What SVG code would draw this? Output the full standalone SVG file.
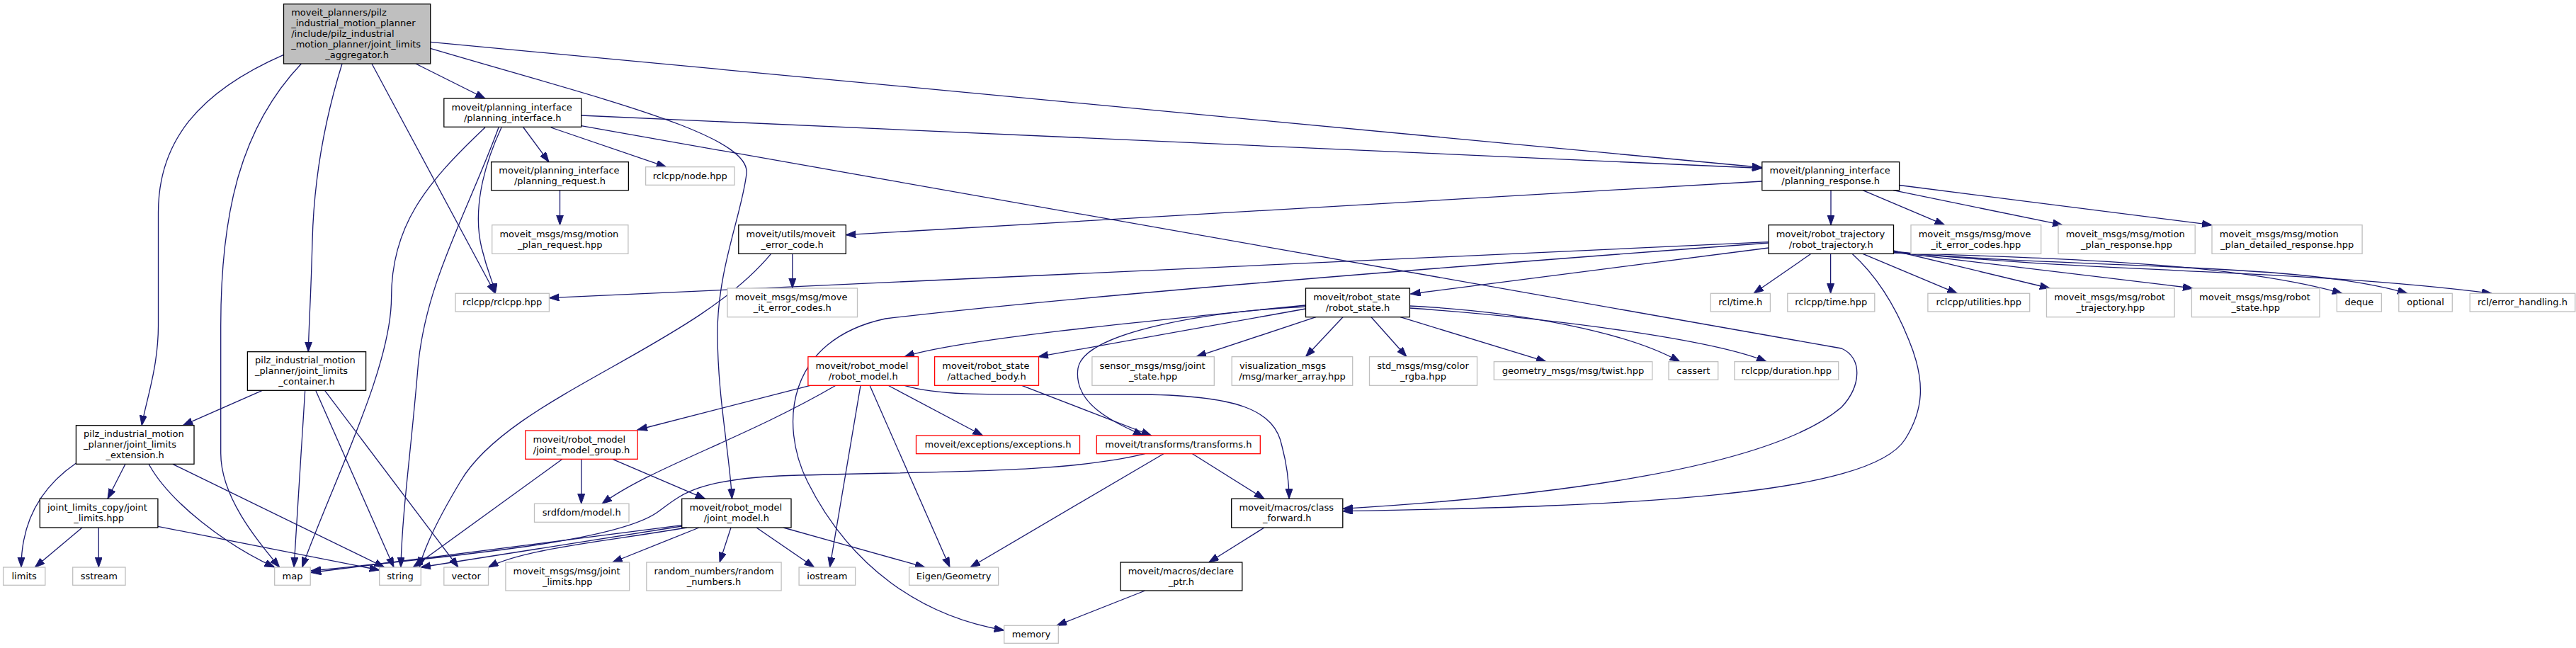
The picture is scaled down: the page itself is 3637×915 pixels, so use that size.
<svg xmlns="http://www.w3.org/2000/svg" width="3637" height="915" viewBox="0 0 3637 915">
<style>
text{font-family:"DejaVu Sans","Liberation Sans",sans-serif;font-size:13px;fill:#000}
.c{text-anchor:middle}
.l{text-anchor:start}
.n rect{fill:#fff;stroke:#000;stroke-width:1.3}
.g rect{stroke:#bfbfbf}
.r rect{stroke:#ff0000}
.root rect{fill:#bfbfbf}
#edges path{fill:none;stroke:#191970;stroke-width:1.3;marker-end:url(#a)}
</style>
<defs>
<marker id="a" markerUnits="userSpaceOnUse" markerWidth="16" markerHeight="12" refX="14" refY="5" orient="auto">
<path d="M0,0 L14,5 L0,10 z" fill="#191970" stroke="#191970" stroke-width="1"/>
</marker>
</defs>
<rect width="3637" height="915" fill="#fff"/>
<g id="edges">
<path d="M587,90 L685,139"/>
<path d="M607.7,59.3 L2487.8,236.5"/>
<path d="M607.7,68.3 C850,140 1060,190 1054,245 C1048,300 1013,380 1013,470 C1013,560 1030,640 1033.5,704.3"/>
<path d="M525,90 L699,414.3"/>
<path d="M425.4,90 C340,180 311.7,300 311.7,460 L311.7,640 C311.7,700 360,760 394.7,801"/>
<path d="M483,90 C455,180 443,260 441,340 C439,420 436,460 435.3,496.7"/>
<path d="M400.5,77.3 C280,130 223.5,200 223.5,300 L223.5,460 C223.5,520 205,570 200.2,600.7"/>
<path d="M820.7,163 L2487.8,237.5"/>
<path d="M684.9,180 C600,260 552.6,320 552.6,420 C552.6,520 470,680 426.6,801"/>
<path d="M704,180 C660,300 600,400 590,520 C580,640 568,720 565.9,801"/>
<path d="M708,180 C680,240 668,300 680,350 C690,390 697,400 699.4,414.3"/>
<path d="M739,180 L775,228.7"/>
<path d="M777.7,180 L940.6,235.7"/>
<path d="M820.7,177.7 L2600,492 C2630,505 2628,545 2600,575 C2500,660 2200,700 1895.8,718.3"/>
<path d="M790.5,268.7 L790.5,317.7"/>
<path d="M2585,268.7 L2585,317.7"/>
<path d="M2630,268.7 L2745.7,317.7"/>
<path d="M2673,268.7 L2912,317.7"/>
<path d="M2681.6,261.5 L3123,317.7"/>
<path d="M2487.8,256 L1194.3,331.7"/>
<path d="M1118.8,358.3 L1118.8,407"/>
<path d="M1088.6,358.3 C980,490 720,560 650,680 C620,730 600,770 592,801"/>
<path d="M2497,341.7 L775.4,420.7"/>
<path d="M2497,343 C2000,380 1500,420 1250,450 C1110,480 1100,600 1140,680 C1200,800 1300,870 1417.7,890"/>
<path d="M2497,350 L1991.5,415"/>
<path d="M2557,358.3 L2476,414.3"/>
<path d="M2584.6,358.3 L2584.6,414.3"/>
<path d="M2615,358.3 C2650,390 2675,430 2695,480 C2720,540 2715,580 2690,620 C2640,700 2300,715 1895.8,721.7"/>
<path d="M2630,358.3 L2763.5,414.3"/>
<path d="M2673.5,354 L2894,407"/>
<path d="M2673.5,356 L3096,407"/>
<path d="M2673.5,357 C2900,365 3150,370 3307,414.3"/>
<path d="M2673.5,356 C2950,380 3250,370 3399,414.3"/>
<path d="M2673.5,355 C2950,385 3250,380 3518,414.3"/>
<path d="M1843.5,431 C1600,455 1350,480 1277,503.7"/>
<path d="M1843.5,433 C1700,440 1530,470 1522,520 C1515,570 1570,595 1614,615"/>
<path d="M1843.5,436 L1466,503.7"/>
<path d="M1858,447.7 L1689,503.7"/>
<path d="M1896,447.7 L1843.5,503.7"/>
<path d="M1936,447.7 L1985.9,503.7"/>
<path d="M1977,447.7 L2183,510.7"/>
<path d="M1990.4,432 C2150,440 2300,470 2371.7,510.7"/>
<path d="M1990.4,435 C2200,450 2420,480 2494,510.7"/>
<path d="M1143.8,544.3 L900,607"/>
<path d="M1180,544.3 C1050,620 920,660 850,711.3"/>
<path d="M1215,544.3 L1171.6,801"/>
<path d="M1228,544.3 L1341,801"/>
<path d="M1254,544.3 L1387.5,615"/>
<path d="M1277,544.3 C1330,560 1400,557 1600,557 C1750,557 1800,580 1810,630 C1818,660 1820,690 1820,704.3"/>
<path d="M1442.7,544.3 L1625.5,615"/>
<path d="M864.8,648.3 L995.7,704.3"/>
<path d="M820.7,648.3 L820.7,711.3"/>
<path d="M794,648.3 L583.3,801"/>
<path d="M1683.5,640.7 L1785,704.3"/>
<path d="M1642.9,640.7 L1370,801"/>
<path d="M1616.6,640.7 C1500,670 1300,665 1100,672 C980,678 960,700 930,722 C880,760 700,780 439,806"/>
<path d="M962.7,741.7 L439.3,808.5"/>
<path d="M962.7,743 L594,801"/>
<path d="M970,745 C850,765 740,775 689.5,801"/>
<path d="M987,745 L864.8,794"/>
<path d="M1032,745 L1016,794"/>
<path d="M1068,745 L1149.6,801"/>
<path d="M1106,745 L1306,801"/>
<path d="M1785,745 L1706.8,794"/>
<path d="M1616.8,834 L1492,883.3"/>
<path d="M370.3,551.3 L258.3,600.7"/>
<path d="M430.7,551.3 L415,801"/>
<path d="M445.7,551.3 L556,801"/>
<path d="M458.5,551.3 L647,801"/>
<path d="M107.4,654 C55,690 30,740 30,801"/>
<path d="M177,655.3 L152,704.3"/>
<path d="M210,655.3 C240,710 320,770 387.7,801"/>
<path d="M243.8,655.3 L542.7,801"/>
<path d="M116,745 L49.3,801"/>
<path d="M139.3,745 L139.3,801"/>
<path d="M222.9,743.3 L535.7,805"/>
</g>
<g id="n0" class="n root"><rect x="400.5" y="5.7" width="207.2" height="84.3"/><text class="l" x="411.2" y="21.9">moveit_planners/pilz</text><text class="l" x="411.2" y="36.9">_industrial_motion_planner</text><text class="l" x="411.2" y="51.9">/include/pilz_industrial</text><text class="l" x="411.2" y="66.9">_motion_planner/joint_limits</text><text class="c" x="504.1" y="81.9">_aggregator.h</text></g>
<g id="n1" class="n"><rect x="626.8" y="139" width="193.9" height="40.3"/><text class="l" x="637.5" y="155.7">moveit/planning_interface</text><text class="c" x="723.75" y="170.7">/planning_interface.h</text></g>
<g id="n2" class="n"><rect x="693.6" y="228.7" width="193.8" height="40"/><text class="l" x="704.3" y="245.2">moveit/planning_interface</text><text class="c" x="790.5" y="260.2">/planning_request.h</text></g>
<g id="n3" class="n g"><rect x="694.7" y="317.7" width="192.2" height="40.6"/><text class="l" x="705.4" y="334.5">moveit_msgs/msg/motion</text><text class="c" x="790.8" y="349.5">_plan_request.hpp</text></g>
<g id="n4" class="n g"><rect x="643" y="414.3" width="132.4" height="25.7"/><text class="c" x="709.2" y="431.2">rclcpp/rclcpp.hpp</text></g>
<g id="n5" class="n g"><rect x="911.6" y="235.7" width="125.4" height="25.6"/><text class="c" x="974.3" y="252.5">rclcpp/node.hpp</text></g>
<g id="n6" class="n"><rect x="2487.8" y="228.7" width="193.8" height="40"/><text class="l" x="2498.5" y="245.2">moveit/planning_interface</text><text class="c" x="2584.7" y="260.2">/planning_response.h</text></g>
<g id="n7" class="n"><rect x="1042.8" y="317.7" width="151.5" height="40.6"/><text class="l" x="1053.5" y="334.5">moveit/utils/moveit</text><text class="c" x="1118.55" y="349.5">_error_code.h</text></g>
<g id="n8" class="n g"><rect x="1027" y="407" width="183.5" height="40.7"/><text class="l" x="1037.7" y="423.85">moveit_msgs/msg/move</text><text class="c" x="1118.75" y="438.85">_it_error_codes.h</text></g>
<g id="n9" class="n"><rect x="2497" y="317.7" width="176.5" height="40.6"/><text class="l" x="2507.7" y="334.5">moveit/robot_trajectory</text><text class="c" x="2585.25" y="349.5">/robot_trajectory.h</text></g>
<g id="n10" class="n g"><rect x="2698" y="317.7" width="183.7" height="40.6"/><text class="l" x="2708.7" y="334.5">moveit_msgs/msg/move</text><text class="c" x="2789.85" y="349.5">_it_error_codes.hpp</text></g>
<g id="n11" class="n g"><rect x="2906" y="317.7" width="193.2" height="40.6"/><text class="l" x="2916.7" y="334.5">moveit_msgs/msg/motion</text><text class="c" x="3002.6" y="349.5">_plan_response.hpp</text></g>
<g id="n12" class="n g"><rect x="3123" y="317.7" width="212.1" height="40.6"/><text class="l" x="3133.7" y="334.5">moveit_msgs/msg/motion</text><text class="c" x="3229.05" y="349.5">_plan_detailed_response.hpp</text></g>
<g id="n13" class="n"><rect x="1843.5" y="407" width="146.9" height="40.7"/><text class="l" x="1854.2" y="423.85">moveit/robot_state</text><text class="c" x="1916.95" y="438.85">/robot_state.h</text></g>
<g id="n14" class="n g"><rect x="2415.2" y="414.3" width="84.2" height="25.7"/><text class="c" x="2457.3" y="431.2">rcl/time.h</text></g>
<g id="n15" class="n g"><rect x="2523.8" y="414.3" width="123" height="25.7"/><text class="c" x="2585.3" y="431.2">rclcpp/time.hpp</text></g>
<g id="n16" class="n g"><rect x="2721.9" y="414.3" width="143.8" height="25.7"/><text class="c" x="2793.8" y="431.2">rclcpp/utilities.hpp</text></g>
<g id="n17" class="n g"><rect x="2889.5" y="407" width="180.6" height="40.7"/><text class="l" x="2900.2" y="423.85">moveit_msgs/msg/robot</text><text class="c" x="2979.8" y="438.85">_trajectory.hpp</text></g>
<g id="n18" class="n g"><rect x="3094.4" y="407" width="180.7" height="40.7"/><text class="l" x="3105.1" y="423.85">moveit_msgs/msg/robot</text><text class="c" x="3184.75" y="438.85">_state.hpp</text></g>
<g id="n19" class="n g"><rect x="3299.4" y="414.3" width="63" height="25.7"/><text class="c" x="3330.9" y="431.2">deque</text></g>
<g id="n20" class="n g"><rect x="3386.8" y="414.3" width="75.5" height="25.7"/><text class="c" x="3424.55" y="431.2">optional</text></g>
<g id="n21" class="n g"><rect x="3487.2" y="414.3" width="148.6" height="25.7"/><text class="c" x="3561.5" y="431.2">rcl/error_handling.h</text></g>
<g id="n22" class="n"><rect x="349.4" y="496.7" width="167.2" height="54.6"/><text class="l" x="360.1" y="513">pilz_industrial_motion</text><text class="l" x="360.1" y="528">_planner/joint_limits</text><text class="c" x="433" y="543">_container.h</text></g>
<g id="n23" class="n"><rect x="107.4" y="600.7" width="166.6" height="54.6"/><text class="l" x="118.1" y="617">pilz_industrial_motion</text><text class="l" x="118.1" y="632">_planner/joint_limits</text><text class="c" x="190.7" y="647">_extension.h</text></g>
<g id="n24" class="n"><rect x="56.3" y="704.3" width="166.6" height="40.7"/><text class="l" x="67" y="721.15">joint_limits_copy/joint</text><text class="c" x="139.6" y="736.15">_limits.hpp</text></g>
<g id="n25" class="n g"><rect x="4.6" y="801" width="59.2" height="25.3"/><text class="c" x="34.2" y="817.7">limits</text></g>
<g id="n26" class="n g"><rect x="102.7" y="801" width="74.3" height="25.3"/><text class="c" x="139.85" y="817.7">sstream</text></g>
<g id="n27" class="n g"><rect x="387.7" y="801" width="50.5" height="25.3"/><text class="c" x="412.95" y="817.7">map</text></g>
<g id="n28" class="n g"><rect x="535.7" y="801" width="58.6" height="25.3"/><text class="c" x="565" y="817.7">string</text></g>
<g id="n29" class="n g"><rect x="626.8" y="801" width="62.7" height="25.3"/><text class="c" x="658.15" y="817.7">vector</text></g>
<g id="n30" class="n g"><rect x="713.9" y="794" width="174.7" height="40"/><text class="l" x="724.6" y="810.5">moveit_msgs/msg/joint</text><text class="c" x="801.25" y="825.5">_limits.hpp</text></g>
<g id="n31" class="n r"><rect x="741.8" y="608" width="158.4" height="40.3"/><text class="l" x="752.5" y="624.65">moveit/robot_model</text><text class="c" x="821" y="639.65">/joint_model_group.h</text></g>
<g id="n32" class="n g"><rect x="754.5" y="711.3" width="133.5" height="26"/><text class="c" x="821.25" y="728.3">srdfdom/model.h</text></g>
<g id="n33" class="n r"><rect x="1140.9" y="503.7" width="155.5" height="40.6"/><text class="l" x="1151.6" y="520.5">moveit/robot_model</text><text class="c" x="1218.65" y="535.5">/robot_model.h</text></g>
<g id="n34" class="n r"><rect x="1319.6" y="503.7" width="146.9" height="40.6"/><text class="l" x="1330.3" y="520.5">moveit/robot_state</text><text class="c" x="1393.05" y="535.5">/attached_body.h</text></g>
<g id="n35" class="n g"><rect x="1541.9" y="503.7" width="172.4" height="40.6"/><text class="l" x="1552.6" y="520.5">sensor_msgs/msg/joint</text><text class="c" x="1628.1" y="535.5">_state.hpp</text></g>
<g id="n36" class="n g"><rect x="1739.2" y="503.7" width="170.5" height="40.6"/><text class="l" x="1749.9" y="520.5">visualization_msgs</text><text class="c" x="1824.45" y="535.5">/msg/marker_array.hpp</text></g>
<g id="n37" class="n g"><rect x="1933.5" y="503.7" width="152" height="40.6"/><text class="l" x="1944.2" y="520.5">std_msgs/msg/color</text><text class="c" x="2009.5" y="535.5">_rgba.hpp</text></g>
<g id="n38" class="n g"><rect x="2109.3" y="510.7" width="223.5" height="25.6"/><text class="c" x="2221.05" y="527.5">geometry_msgs/msg/twist.hpp</text></g>
<g id="n39" class="n g"><rect x="2356" y="510.7" width="69.7" height="25.6"/><text class="c" x="2390.85" y="527.5">cassert</text></g>
<g id="n40" class="n g"><rect x="2448.9" y="510.7" width="146.8" height="25.6"/><text class="c" x="2522.3" y="527.5">rclcpp/duration.hpp</text></g>
<g id="n41" class="n r"><rect x="1293.5" y="615" width="231" height="25.7"/><text class="c" x="1409" y="631.9">moveit/exceptions/exceptions.h</text></g>
<g id="n42" class="n r"><rect x="1548.3" y="615" width="231" height="25.7"/><text class="c" x="1663.8" y="631.9">moveit/transforms/transforms.h</text></g>
<g id="n43" class="n"><rect x="962.7" y="704.3" width="154.3" height="40.7"/><text class="l" x="973.4" y="721.15">moveit/robot_model</text><text class="c" x="1039.85" y="736.15">/joint_model.h</text></g>
<g id="n44" class="n"><rect x="1738.7" y="704.3" width="157.1" height="40.7"/><text class="l" x="1749.4" y="721.15">moveit/macros/class</text><text class="c" x="1817.25" y="736.15">_forward.h</text></g>
<g id="n45" class="n g"><rect x="912.8" y="794" width="190.3" height="40"/><text class="l" x="923.5" y="810.5">random_numbers/random</text><text class="c" x="1007.95" y="825.5">_numbers.h</text></g>
<g id="n46" class="n g"><rect x="1128.1" y="801" width="79.5" height="25.3"/><text class="c" x="1167.85" y="817.7">iostream</text></g>
<g id="n47" class="n g"><rect x="1283.6" y="801" width="126" height="25.3"/><text class="c" x="1346.6" y="817.7">Eigen/Geometry</text></g>
<g id="n48" class="n"><rect x="1582" y="794" width="171.8" height="40"/><text class="l" x="1592.7" y="810.5">moveit/macros/declare</text><text class="c" x="1667.9" y="825.5">_ptr.h</text></g>
<g id="n49" class="n g"><rect x="1417.7" y="883.3" width="76.6" height="25"/><text class="c" x="1456" y="899.8">memory</text></g>
</svg>
